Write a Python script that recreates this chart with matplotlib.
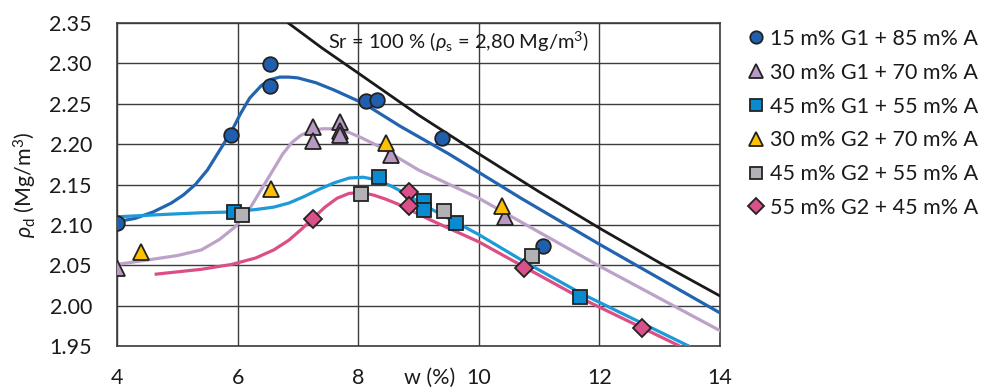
import matplotlib
matplotlib.use("Agg")
import matplotlib.pyplot as plt

plt.rcParams["font.family"] = ["Lato", "DejaVu Sans"]
plt.rcParams["mathtext.fontset"] = "custom"
plt.rcParams["mathtext.rm"] = "Lato"
plt.rcParams["mathtext.it"] = "Lato:italic"

TEXT = "#1a1a1a"
GRID = "#3c3c3c"
FS = 15.5

# measured points (w %, rho_d Mg/m3)
g1_15_w = [4.0, 5.89, 6.54, 6.54, 8.13, 8.32, 9.39, 11.06]
g1_15_rho = [2.102, 2.211, 2.299, 2.272, 2.254, 2.255, 2.208, 2.074]

g1_30_w = [4.0, 7.25, 7.25, 7.70, 7.70, 7.70, 8.55, 10.43]
g1_30_rho = [2.047, 2.221, 2.204, 2.227, 2.216, 2.211, 2.186, 2.110]

g1_45_w = [5.94, 8.34, 9.09, 9.09, 9.62, 11.67]
g1_45_rho = [2.116, 2.159, 2.129, 2.119, 2.102, 2.011]

g2_30_w = [4.40, 6.55, 8.46, 10.39]
g2_30_rho = [2.067, 2.145, 2.202, 2.123]

g2_45_w = [6.08, 8.04, 9.42, 10.89]
g2_45_rho = [2.112, 2.138, 2.117, 2.062]

g2_55_w = [7.25, 8.85, 8.85, 10.75, 12.70]
g2_55_rho = [2.107, 2.141, 2.123, 2.047, 1.972]

# fitted curves
fit_g1_15_w = [4.0, 4.3, 4.6, 4.9, 5.1, 5.3, 5.5, 5.7, 5.9, 6.05, 6.2, 6.4, 6.55,
               6.7, 6.85, 7.0, 7.3, 7.6, 8.1, 8.7, 9.5, 10.7, 12.0, 14.0]
fit_g1_15_rho = [2.104, 2.108, 2.116, 2.127, 2.137, 2.150, 2.168, 2.192, 2.216,
                 2.238, 2.257, 2.273, 2.280, 2.283, 2.283, 2.282, 2.276, 2.267,
                 2.250, 2.222, 2.188, 2.133, 2.076, 1.991]

fit_g1_30_w = [4.0, 4.55, 5.0, 5.4, 5.7, 5.95, 6.2, 6.5, 6.75, 6.9, 7.05, 7.2,
               7.4, 7.6, 7.8, 8.05, 8.35, 9.0, 10.0, 12.0, 14.0]
fit_g1_30_rho = [2.051, 2.057, 2.062, 2.069, 2.082, 2.097, 2.120, 2.157, 2.188,
                 2.202, 2.211, 2.216, 2.219, 2.219, 2.216, 2.208, 2.197, 2.168,
                 2.133, 2.049, 1.969]

fit_g1_45_w = [4.0, 4.8, 5.4, 5.9, 6.3, 6.6, 6.85, 7.1, 7.35, 7.6, 7.85, 8.08,
               8.3, 8.55, 8.8, 9.1, 9.6, 10.0, 10.74, 11.7, 13.48]
fit_g1_45_rho = [2.110, 2.113, 2.115, 2.116, 2.119, 2.122, 2.127, 2.135, 2.144,
                 2.152, 2.158, 2.159, 2.156, 2.148, 2.138, 2.124, 2.104, 2.088,
                 2.055, 2.015, 1.950]

fit_g2_55_w = [4.65, 5.4, 5.9, 6.3, 6.6, 6.85, 7.05, 7.25, 7.45, 7.65, 7.85,
               8.05, 8.25, 8.45, 8.65, 9.2, 10.0, 10.75, 11.7, 13.33]
fit_g2_55_rho = [2.039, 2.045, 2.051, 2.059, 2.069, 2.081, 2.094, 2.108, 2.122,
                 2.133, 2.139, 2.140, 2.137, 2.132, 2.126, 2.106, 2.079, 2.048,
                 2.009, 1.950]

# saturation line Sr = 100 %
sat_w = [6.84, 7.4, 8.0, 9.0, 10.0, 11.0, 12.0, 13.0, 14.0]
sat_rho = [2.350, 2.319, 2.288, 2.236, 2.188, 2.141, 2.096, 2.053, 2.012]

labels = ["15 m% G1 + 85 m% A", "30 m% G1 + 70 m% A", "45 m% G1 + 55 m% A",
          "30 m% G2 + 70 m% A", "45 m% G2 + 55 m% A", "55 m% G2 + 45 m% A"]

fig = plt.figure(figsize=(9.89, 3.89), dpi=100)
ax = fig.add_axes([117 / 989, 1 - 346 / 389, 603 / 989, 323 / 389])

lw = 2.3
ax.plot(sat_w, sat_rho, color="#1a1a1a", lw=2.0, zorder=3)
ax.plot(fit_g1_15_w, fit_g1_15_rho, color="#2264b0", lw=lw, zorder=3)
ax.plot(fit_g1_30_w, fit_g1_30_rho, color="#bca2c8", lw=lw, zorder=3)
ax.plot(fit_g1_45_w, fit_g1_45_rho, color="#1e9ad8", lw=lw, zorder=3)
ax.plot(fit_g2_55_w, fit_g2_55_rho, color="#dc4f86", lw=lw, zorder=3)

mk = dict(ls="none", mec="#222222", mew=1.3, zorder=4)
ax.plot(g1_15_w, g1_15_rho, "o", ms=10.5, mfc="#1f5fae", label=labels[0], **mk)
ax.plot(g1_30_w, g1_30_rho, "^", ms=11.5, mfc="#b79ac4", label=labels[1], **mk)
ax.plot(g1_45_w, g1_45_rho, "s", ms=10, mfc="#0a8bd0", label=labels[2], **mk)
ax.plot(g2_30_w, g2_30_rho, "^", ms=11.5, mfc="#ffc000", label=labels[3], **mk)
ax.plot(g2_45_w, g2_45_rho, "s", ms=10, mfc="#b2b2b6", label=labels[4], **mk)
ax.plot(g2_55_w, g2_55_rho, "D", ms=9.5, mfc="#d9508a", label=labels[5], **mk)

ax.set_xlim(4, 14)
ax.set_ylim(1.95, 2.35)
ax.set_xticks([4, 6, 8, 10, 12, 14])
ax.set_yticks([1.95, 2.00, 2.05, 2.10, 2.15, 2.20, 2.25, 2.30, 2.35])
ax.set_yticklabels([f"{v:.2f}" for v in ax.get_yticks()])
ax.tick_params(length=0, labelsize=FS, colors=TEXT)
ax.tick_params(axis="x", pad=16)
ax.tick_params(axis="y", pad=18)
ax.grid(True, color=GRID, lw=1.0)
ax.set_axisbelow(True)
for sp in ax.spines.values():
    sp.set_color(GRID)
    sp.set_linewidth(1.2)

ax.text(0.519, -0.099, "w (%)", transform=ax.transAxes, ha="center",
        va="center", fontsize=FS, color=TEXT)
fig.text(25 / 989, 1 - 185 / 389, r"$\rho_\mathrm{d}$ (Mg/m$^3$)", rotation=90,
         ha="center", va="center", fontsize=FS, color=TEXT)
ax.text(0.35, 0.941, r"Sr = 100 % ($\rho_\mathrm{s}$ = 2,80 Mg/m$^3$)",
        transform=ax.transAxes, ha="left", va="center", fontsize=14.5, color=TEXT)

leg = ax.legend(loc="upper left", bbox_to_anchor=(748 / 989, 1 - 29 / 389),
                bbox_transform=fig.transFigure, frameon=False, fontsize=FS,
                handlelength=0.7, handletextpad=0.3, labelspacing=0.64,
                markerscale=0.85, borderaxespad=0, borderpad=0)
for t in leg.get_texts():
    t.set_color(TEXT)

fig.savefig("out.png", dpi=100)
